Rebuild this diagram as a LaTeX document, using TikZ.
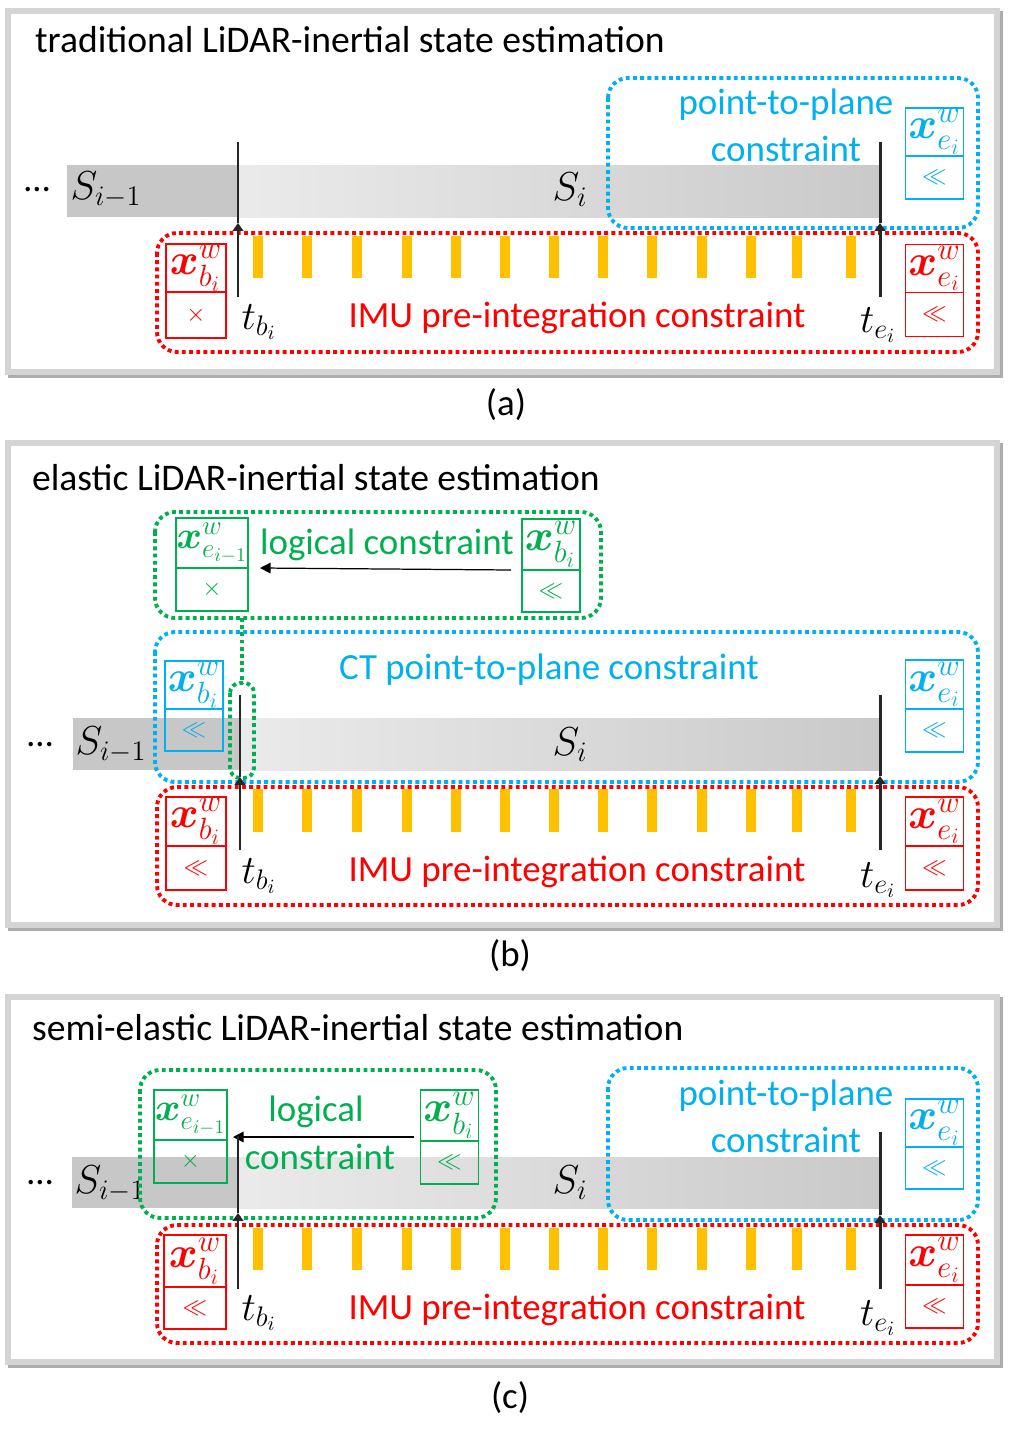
\RequirePackage{fix-cm}
\documentclass[tikz,border=0pt]{standalone}
\usepackage{amsmath,bm}
\usepackage{fontspec}
\setmainfont{Carlito}
\usepackage{tikz}
\usetikzlibrary{positioning,arrows.meta}

\definecolor{ptblue}{HTML}{00B0F0}
\definecolor{lgreen}{HTML}{00B050}
\definecolor{imuyel}{HTML}{FFC000}

\begin{document}
\begin{tikzpicture}[
  x=0.02cm, y=-0.02cm,
  every node/.style={inner sep=1pt, font=\fontsize{21}{25}\selectfont},
  ttl/.style={anchor=west, font=\fontsize{21.4}{25}\selectfont},
  mth/.style={font=\fontsize{23}{27}\selectfont},
  st/.style={draw=#1, text=#1, line width=1.1pt, inner sep=0pt, outer sep=0pt,
    minimum width=1.16cm, minimum height=0.96cm, font=\fontsize{25}{28}\selectfont},
  wide/.style={font=\fontsize{22}{26}\selectfont},
  sm/.style={font=\fontsize{14}{16}\selectfont},
  grp/.style={draw=#1, line width=2.2pt, dash pattern=on 2.2pt off 1.9pt, rounded corners=0.4cm},
  frm/.style={draw=black!17, line width=3.4pt},
  shd/.style={draw=black!32, line width=3.4pt},
  tl/.style={draw=black!85, line width=1.7pt},
  tip/.style={tl, -{Triangle[length=4.5pt,width=6pt]}},
  larr/.style={draw=black, line width=0.7pt, -{Triangle[length=6pt,width=6pt]}}
]
\useasboundingbox (0,0) rectangle (1013,1443);

% (a)
\draw[shd] (11,14) rectangle (1000,375);
\draw[frm, fill=white] (8,11) rectangle (997,372);
\node[ttl] (ta) at (33,40) {traditional LiDAR-inertial state estimation};
\fill[black!22] (67,165) rectangle (238,217);
\shade[left color=black!8, right color=black!21] (238,165) rectangle (880,217);
\node (dota) at (37,190) {\textellipsis};
\node[mth] (sa0) at (106,190) {$S_{i-1}$};
\node[mth] (sa1) at (570,190) {$S_i$};
\foreach \x in {258,307,357,407,456,505,554,603,652,702,751,797,851}
  \fill[imuyel] (\x-5,236) rectangle (\x+5,278);
\draw[grp=red] (157,233) rectangle (978,352);
\draw[grp=ptblue] (608,78) rectangle (978,228);
\node[text=ptblue] (ppa) at (786,105) {point-to-plane};
\node[text=ptblue] (pca) at (786,149) {constraint};
\node[st=ptblue] (ba1) at (934.5,132) {$\bm{x}^{w}_{e_i}$};
\node[st=ptblue, sm, minimum height=0.86cm, below=0pt of ba1] (ba2) {$\ll$};
\node[st=red, minimum width=1.2cm] (ra1) at (196,268) {$\bm{x}^{w}_{b_i}$};
\node[st=red, sm, minimum width=1.2cm, minimum height=0.92cm, below=0pt of ra1] (ra2) {$\times$};
\node[st=red] (rb1) at (934.5,268.5) {$\bm{x}^{w}_{e_i}$};
\node[st=red, sm, minimum height=0.88cm, below=0pt of rb1] (rb2) {$\ll$};
\node[text=red] (imua) at (577,318) {IMU pre-integration constraint};
\node[mth] (tba) at (259,322) {$t_{b_i}$};
\node[mth] (tea) at (878,325) {$t_{e_i}$};
\coordinate (pa0) at (238,297);
\coordinate (pa1) at (238,223);
\coordinate (pa2) at (238,142);
\coordinate (qa0) at (880,297);
\coordinate (qa1) at (880,223);
\coordinate (qa2) at (880,142);
\draw[tip] (pa0) -- (pa1);
\draw[tl] (pa1) -- (pa2);
\draw[tip] (qa0) -- (qa1);
\draw[tl] (qa1) -- (qa2);
\node (capa) at (506,405) {(a)};

% (b)
\draw[shd] (11,446) rectangle (1000,928);
\draw[frm, fill=white] (8,443) rectangle (997,925);
\node[ttl] (tb) at (30,478) {elastic LiDAR-inertial state estimation};
\fill[black!22] (73,718) rectangle (240,770);
\shade[left color=black!8, right color=black!21] (240,718) rectangle (880,770);
\node (dotb) at (40,745) {\textellipsis};
\node[mth] (sb0) at (111,745) {$S_{i-1}$};
\node[mth] (sb1) at (570,745) {$S_i$};
\foreach \x in {258,307,357,407,456,505,554,603,652,702,751,797,851}
  \fill[imuyel] (\x-5,789) rectangle (\x+5,832);
\draw[grp=lgreen] (155,512) rectangle (601,618);
\node[st=lgreen, wide, minimum width=1.44cm, minimum height=1cm] (gl1) at (212,543) {$\bm{x}^{w}_{e_{i-1}}$};
\node[st=lgreen, sm, minimum width=1.44cm, minimum height=0.86cm, below=0pt of gl1] (gl2) {$\times$};
\node[st=lgreen, minimum height=1.02cm] (gr1) at (551,544.5) {$\bm{x}^{w}_{b_i}$};
\node[st=lgreen, sm, minimum height=0.84cm, below=0pt of gr1] (gr2) {$\ll$};
\node[text=lgreen] (lcb) at (387,545) {logical constraint};
\draw[larr] ([xshift=-0.22cm]gr2.north west) -- ([xshift=0.24cm]gl2.north east);
\draw[grp=lgreen, rounded corners=0] (242,618) -- (242,683);
\draw[grp=ptblue] (155,632) rectangle (978,782);
\draw[grp=lgreen, rounded corners=0.2cm] (230,683) rectangle (254,778);
\node[text=ptblue] (ctb) at (549,670) {CT point-to-plane constraint};
\node[st=ptblue] (bl1) at (194,685) {$\bm{x}^{w}_{b_i}$};
\node[st=ptblue, sm, minimum height=0.84cm, below=0pt of bl1] (bl2) {$\ll$};
\node[st=ptblue, minimum height=0.98cm] (br1) at (934.5,684.5) {$\bm{x}^{w}_{e_i}$};
\node[st=ptblue, sm, minimum height=0.86cm, below=0pt of br1] (br2) {$\ll$};
\draw[grp=red] (157,787) rectangle (978,905);
\node[st=red, minimum width=1.2cm, minimum height=0.98cm] (rl1) at (196,821.5) {$\bm{x}^{w}_{b_i}$};
\node[st=red, sm, minimum width=1.2cm, minimum height=0.88cm, below=0pt of rl1] (rl2) {$\ll$};
\node[st=red, minimum height=0.98cm] (rr1) at (934.5,821.5) {$\bm{x}^{w}_{e_i}$};
\node[st=red, sm, minimum height=0.88cm, below=0pt of rr1] (rr2) {$\ll$};
\node[text=red] (imub) at (577,872) {IMU pre-integration constraint};
\node[mth] (tbb) at (259,876) {$t_{b_i}$};
\node[mth] (teb) at (878,880) {$t_{e_i}$};
\coordinate (pb0) at (240,850);
\coordinate (pb1) at (240,777);
\coordinate (pb2) at (240,695);
\coordinate (qb0) at (880,850);
\coordinate (qb1) at (880,776);
\coordinate (qb2) at (880,695);
\draw[tip] (pb0) -- (pb1);
\draw[tl] (pb1) -- (pb2);
\draw[tip] (qb0) -- (qb1);
\draw[tl] (qb1) -- (qb2);
\node (capb) at (510,956) {(b)};

% (c)
\draw[shd] (11,1000) rectangle (1000,1365);
\draw[frm, fill=white] (8,997) rectangle (997,1362);
\node[ttl] (tc) at (30,1028) {semi-elastic LiDAR-inertial state estimation};
\fill[black!22] (72,1157) rectangle (238,1208);
\shade[left color=black!8, right color=black!21] (238,1157) rectangle (880,1208);
\node (dotc) at (40,1183) {\textellipsis};
\node[mth] (sc0) at (110,1184) {$S_{i-1}$};
\node[mth] (sc1) at (570,1183) {$S_i$};
\foreach \x in {258,307,357,407,456,505,554,603,652,702,751,797,851}
  \fill[imuyel] (\x-5,1228) rectangle (\x+5,1270);
\draw[grp=lgreen] (140,1070) rectangle (496,1218);
\node[st=lgreen, wide, minimum width=1.46cm, minimum height=1cm] (hl1) at (190.5,1115) {$\bm{x}^{w}_{e_{i-1}}$};
\node[st=lgreen, sm, minimum width=1.46cm, minimum height=0.86cm, below=0pt of hl1] (hl2) {$\times$};
\node[st=lgreen, minimum height=1.02cm] (hr1) at (449.5,1115.5) {$\bm{x}^{w}_{b_i}$};
\node[st=lgreen, sm, minimum height=0.86cm, below=0pt of hr1] (hr2) {$\ll$};
\node[text=lgreen] (lgc) at (316,1112) {logical};
\node[text=lgreen] (lcc) at (320,1157) {constraint};
\draw[larr] ([xshift=-0.14cm,yshift=0.08cm]hr2.north west) -- ([xshift=0.12cm,yshift=0.06cm]hl2.north east);
\draw[grp=ptblue] (608,1068) rectangle (978,1220);
\node[text=ptblue] (ppc) at (786,1096) {point-to-plane};
\node[text=ptblue] (pcc) at (786,1140) {constraint};
\node[st=ptblue] (bc1) at (934.5,1123) {$\bm{x}^{w}_{e_i}$};
\node[st=ptblue, sm, minimum height=0.84cm, below=0pt of bc1] (bc2) {$\ll$};
\draw[grp=red] (157,1225) rectangle (978,1343);
\node[st=red, minimum width=1.24cm, minimum height=1.04cm] (rc1) at (195,1261) {$\bm{x}^{w}_{b_i}$};
\node[st=red, sm, minimum width=1.24cm, minimum height=0.84cm, below=0pt of rc1] (rc2) {$\ll$};
\node[st=red, minimum height=1cm] (rd1) at (934.5,1260) {$\bm{x}^{w}_{e_i}$};
\node[st=red, sm, minimum height=0.86cm, below=0pt of rd1] (rd2) {$\ll$};
\node[text=red] (imuc) at (577,1310) {IMU pre-integration constraint};
\node[mth] (tbc) at (259,1313) {$t_{b_i}$};
\node[mth] (tec) at (878,1318) {$t_{e_i}$};
\coordinate (pc0) at (238,1289);
\coordinate (pc1) at (238,1213);
\coordinate (pc2) at (238,1136);
\coordinate (qc0) at (880,1289);
\coordinate (qc1) at (880,1215);
\coordinate (qc2) at (880,1132);
\draw[tip] (pc0) -- (pc1);
\draw[tl] (pc1) -- (pc2);
\draw[tip] (qc0) -- (qc1);
\draw[tl] (qc1) -- (qc2);
\node (capc) at (510,1398) {(c)};
\end{tikzpicture}
\end{document}
